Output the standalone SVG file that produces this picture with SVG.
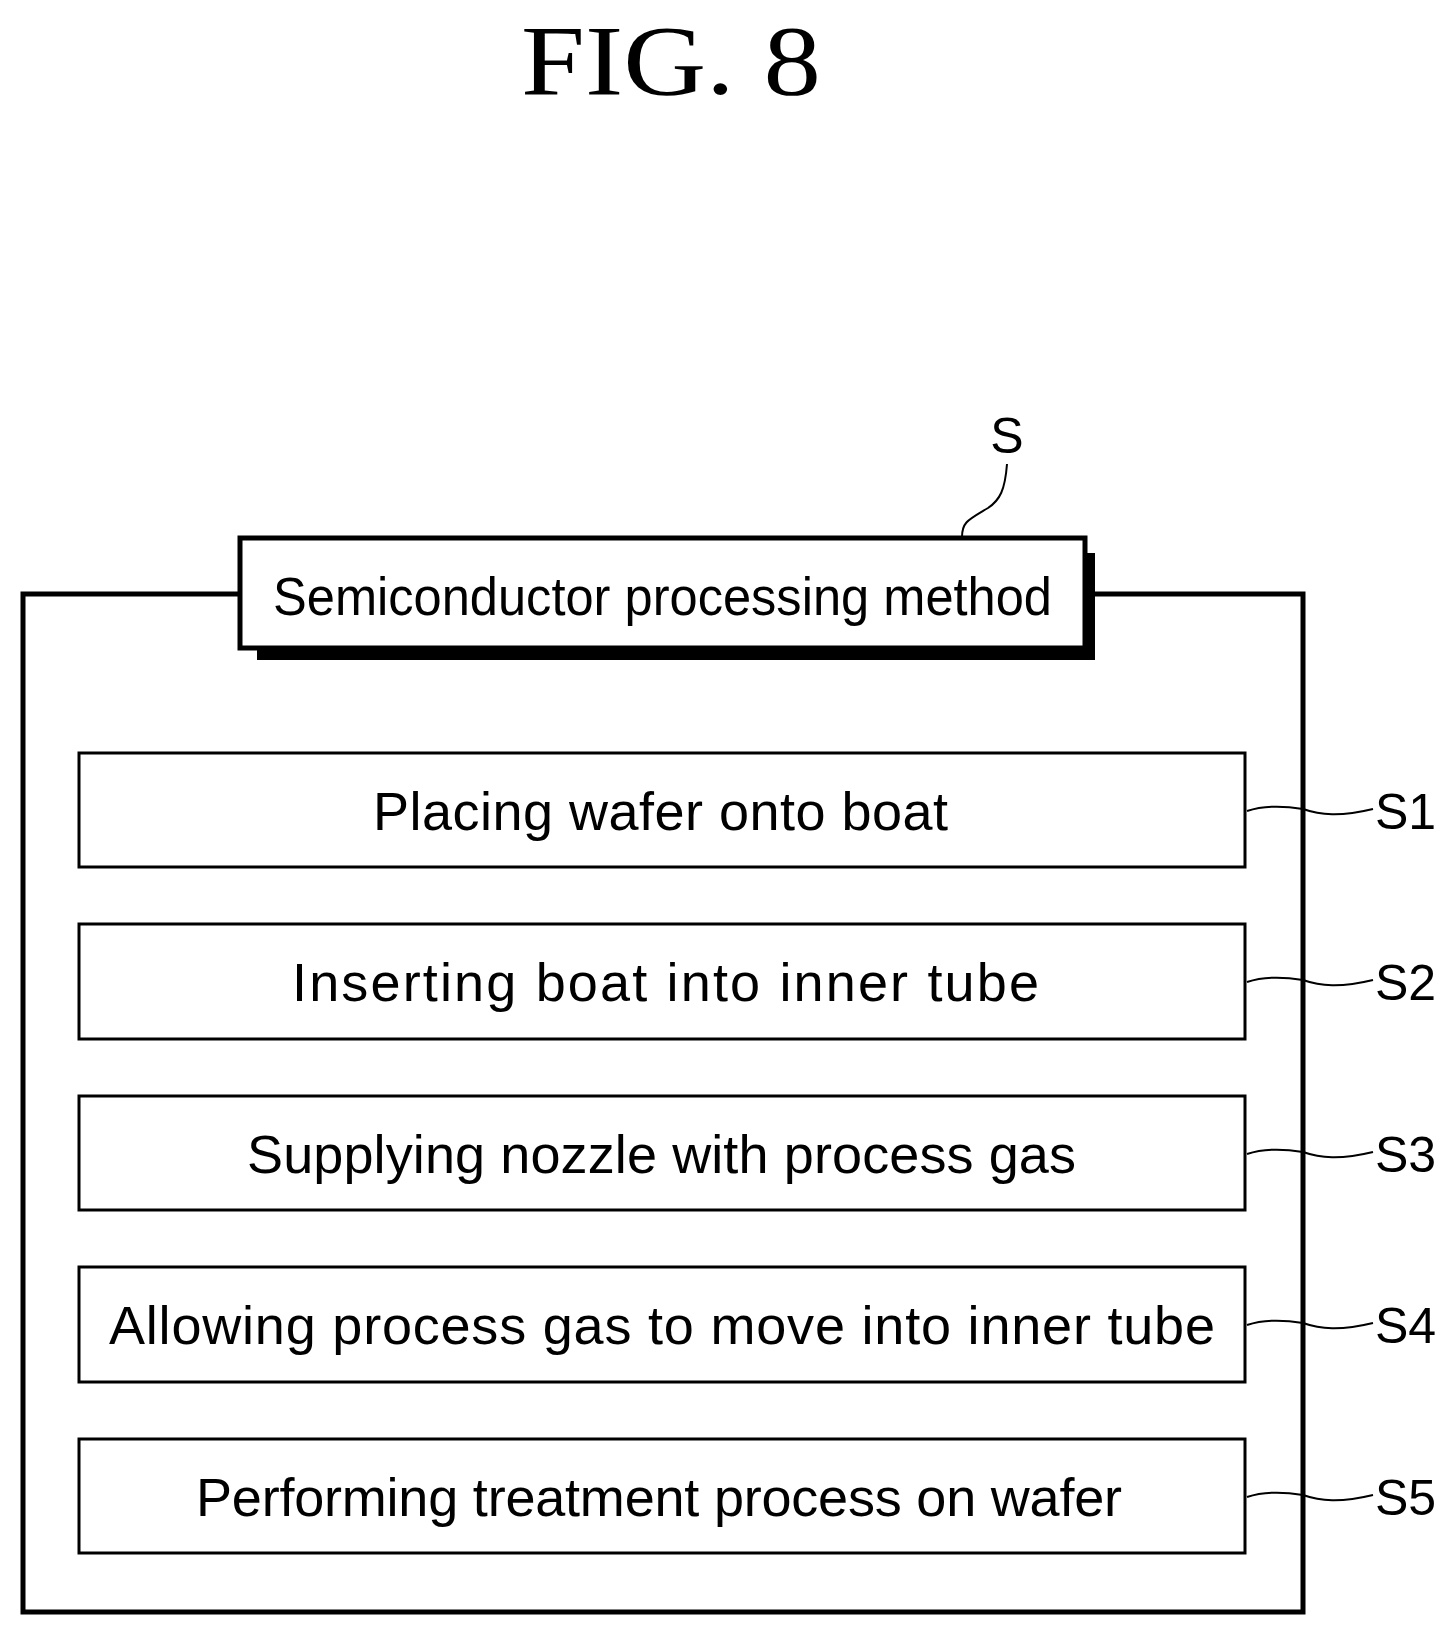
<svg xmlns="http://www.w3.org/2000/svg" width="1449" height="1634" viewBox="0 0 1449 1634">
<style>
.t{font-family:"Liberation Sans",Arial,sans-serif;font-size:54px;fill:#000}
.n{font-family:"Liberation Sans",Arial,sans-serif;font-size:50px;fill:#000}
.b{fill:#fff;stroke:#000;stroke-width:3}
.l{fill:none;stroke:#000;stroke-width:2}
</style>
<rect width="1449" height="1634" fill="#fff"/>
<text x="521" y="94" font-family="Liberation Serif,serif" font-size="100" textLength="300" lengthAdjust="spacingAndGlyphs">FIG. 8</text>
<g id="frame"><rect x="23" y="594" width="1280" height="1018" fill="none" stroke="#000" stroke-width="5"/></g>
<g id="header">
<rect x="257" y="553" width="838" height="107" fill="#000"/>
<rect x="240" y="538" width="845" height="110" fill="#fff" stroke="#000" stroke-width="5"/>
<text class="t" x="273" y="615" textLength="779" lengthAdjust="spacingAndGlyphs">Semiconductor processing method</text>
<text class="n" x="1007" y="453" text-anchor="middle">S</text>
</g>
<g id="s1"><rect class="b" x="79" y="753" width="1166" height="114"/><text class="t" x="373" y="830" textLength="575" lengthAdjust="spacing">Placing wafer onto boat</text><text class="n" x="1375" y="829">S1</text></g>
<g id="s2"><rect class="b" x="79" y="924" width="1166" height="115"/><text class="t" x="292" y="1001" textLength="747" lengthAdjust="spacing">Inserting boat into inner tube</text><text class="n" x="1375" y="1000">S2</text></g>
<g id="s3"><rect class="b" x="79" y="1096" width="1166" height="114"/><text class="t" x="247" y="1173" textLength="829" lengthAdjust="spacing">Supplying nozzle with process gas</text><text class="n" x="1375" y="1172">S3</text></g>
<g id="s4"><rect class="b" x="79" y="1267" width="1166" height="115"/><text class="t" x="109" y="1344" textLength="1106" lengthAdjust="spacing">Allowing process gas to move into inner tube</text><text class="n" x="1375" y="1343">S4</text></g>
<g id="s5"><rect class="b" x="79" y="1439" width="1166" height="114"/><text class="t" x="196" y="1516" textLength="926" lengthAdjust="spacing">Performing treatment process on wafer</text><text class="n" x="1375" y="1515">S5</text></g>
<g id="connectors">
<path class="l" d="M1007,464 C1005,490 1000,500 988,508 C968,520 962,522 962,537"/>
<path class="l" d="M1247,811 C1265,805 1285,806 1303,809 C1320,815 1340,817 1373,809"/>
<path class="l" d="M1247,982 C1265,976 1285,977 1303,980 C1320,986 1340,988 1373,980"/>
<path class="l" d="M1247,1154 C1265,1148 1285,1149 1303,1152 C1320,1158 1340,1160 1373,1152"/>
<path class="l" d="M1247,1325 C1265,1319 1285,1320 1303,1323 C1320,1329 1340,1331 1373,1323"/>
<path class="l" d="M1247,1497 C1265,1491 1285,1492 1303,1495 C1320,1501 1340,1503 1373,1495"/>
</g>
</svg>
